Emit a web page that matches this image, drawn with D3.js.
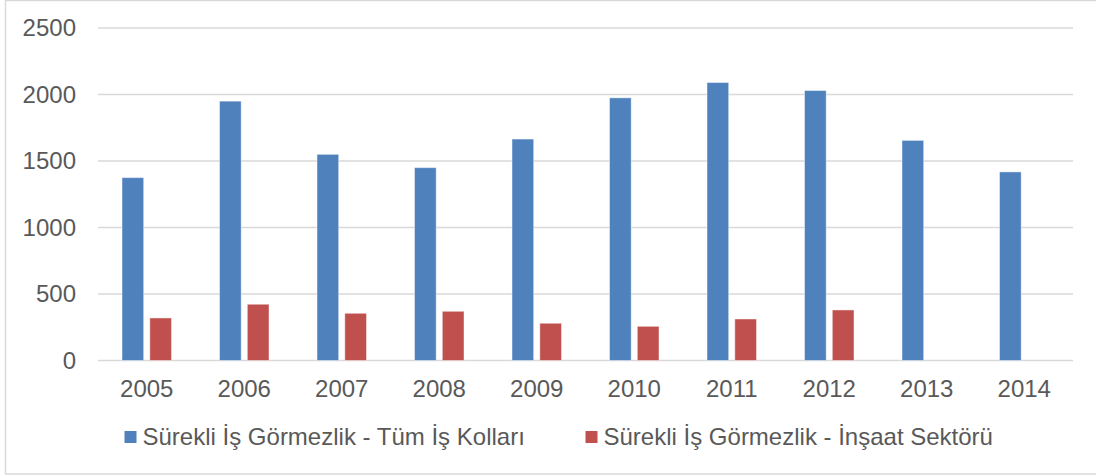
<!DOCTYPE html>
<html>
<head>
<meta charset="utf-8">
<script src="https://cdn.jsdelivr.net/npm/d3@7"></script>
<style>
  body { margin: 0; background: #fff; }
  text { font-family: "Liberation Sans", Arial, sans-serif; fill: #595959; }
</style>
</head>
<body>
<script>
var years = ['2005', '2006', '2007', '2008', '2009', '2010', '2011', '2012', '2013', '2014'];
var tumIsKollari = [1375, 1950, 1550, 1450, 1665, 1975, 2090, 2030, 1655, 1418];
var insaatSektoru = [320, 423, 355, 370, 280, 257, 312, 380, null, null];
var seriesNames = ['Sürekli İş Görmezlik - Tüm İş Kolları', 'Sürekli İş Görmezlik - İnşaat Sektörü'];
var seriesColors = ['#4f81bd', '#c0504d'];
var yTicks = [0, 500, 1000, 1500, 2000, 2500];

var w = 1096, h = 476,
	plotLeft = 98, plotRight = 1073,
	plotTop = 28, plotBottom = 360.5,
	fontSize = 24;

var svg = d3.select('body').append('svg')
	.attr('width', w)
	.attr('height', h);

// chart border
svg.append('rect')
	.attr('x', 5.5).attr('y', 0.5)
	.attr('width', 1100).attr('height', 473.5)
	.attr('fill', 'none')
	.attr('stroke', '#d9d9d9')
	.attr('stroke-width', 1.5);

var y = d3.scaleLinear().domain([0, 2500]).range([plotBottom, plotTop]);
var x0 = d3.scaleBand().domain(years).range([plotLeft, plotRight]).padding(0);
var gw = 49.5,
	bw = x0.bandwidth();
var x1 = d3.scaleBand().domain([0, 1])
	.range([(bw - gw) / 2, (bw + gw) / 2])
	.paddingInner(0.22);

// grid lines
svg.append('g').selectAll('line')
	.data(yTicks)
	.enter().append('line')
		.attr('x1', plotLeft).attr('x2', plotRight)
		.attr('y1', function(d) { return y(d); })
		.attr('y2', function(d) { return y(d); })
		.attr('stroke', '#d9d9d9')
		.attr('stroke-width', 1.5);

// y axis labels
var yAxis = d3.axisLeft(y).tickValues(yTicks).tickFormat(d3.format('d')).tickSize(0).tickPadding(0);
var gy = svg.append('g')
	.attr('transform', 'translate(76,0)')
	.call(yAxis);
gy.select('.domain').remove();
gy.selectAll('text')
	.style('font-size', fontSize + 'px')
	.style('font-family', '"Liberation Sans", Arial, sans-serif')
	.attr('fill', '#595959');

// x axis labels
var xAxis = d3.axisBottom(x0).tickSize(0).tickPadding(0);
var gx = svg.append('g')
	.attr('transform', 'translate(0,' + plotBottom + ')')
	.call(xAxis);
gx.select('.domain').remove();
gx.selectAll('text')
	.attr('dy', null)
	.attr('y', 36.5)
	.style('font-size', fontSize + 'px')
	.style('font-family', '"Liberation Sans", Arial, sans-serif')
	.attr('fill', '#595959');

// bars
var rows = years.map(function(yr, i) {
	return { year: yr, values: [tumIsKollari[i], insaatSektoru[i]] };
});

var groups = svg.append('g').selectAll('g')
	.data(rows)
	.enter().append('g')
		.attr('transform', function(d) { return 'translate(' + x0(d.year) + ',0)'; });

groups.selectAll('rect')
	.data(function(d) {
		return d.values.map(function(v, s) { return { s: s, v: v }; })
			.filter(function(e) { return e.v != null; });
	})
	.enter().append('rect')
		.attr('x', function(d) { return x1(d.s); })
		.attr('width', x1.bandwidth())
		.attr('y', function(d) { return y(d.v); })
		.attr('height', function(d) { return y(0) - y(d.v); })
		.attr('fill', function(d) { return seriesColors[d.s]; })
		.attr('stroke', 'rgba(255,255,255,0.45)')
		.attr('stroke-width', 1);

// legend
var legendX = [124.5, 585.5];
var legend = svg.append('g').selectAll('g')
	.data(seriesNames)
	.enter().append('g')
		.attr('transform', function(d, i) { return 'translate(' + legendX[i] + ',431)'; });

legend.append('rect')
	.attr('width', 12).attr('height', 12)
	.attr('fill', function(d, i) { return seriesColors[i]; });

legend.append('text')
	.attr('x', 18)
	.attr('y', 14)
	.style('font-size', fontSize + 'px')
	.text(function(d) { return d; });
</script>
</body>
</html>
